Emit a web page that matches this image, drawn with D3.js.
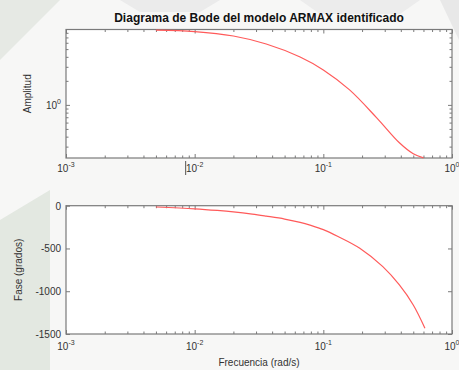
<!DOCTYPE html>
<html>
<head>
<meta charset="utf-8">
<script src="https://cdn.jsdelivr.net/npm/d3@7"></script>
<style>
  html, body { margin: 0; padding: 0; background: #ffffff; }
  svg { display: block; font-family: "Liberation Sans", Arial, sans-serif; }
</style>
</head>
<body>
<svg id="chart" width="459" height="370"></svg>
<script>
// Bode diagram of the identified ARMAX model
const magFreq  = [0.005, 0.01, 0.02, 0.036, 0.066, 0.1, 0.16, 0.26, 0.39, 0.5, 0.6];
const magValue = [8.66, 8.30, 7.29, 5.79, 3.98, 2.74, 1.54, 0.688, 0.335, 0.244, 0.217];

const phaseFreq  = [0.005, 0.01, 0.015, 0.02, 0.028, 0.036, 0.05, 0.066, 0.08, 0.1, 0.13, 0.192, 0.29, 0.39, 0.5, 0.616];
const phaseValue = [-15, -36, -55, -72, -98, -122, -156, -194, -230, -280, -360, -498, -713, -927, -1161, -1433];

const freqDomain   = [1e-3, 1e0];
const freqTicks    = [1e-3, 1e-2, 1e-1, 1e0];
const freqTickExp  = ["-3", "-2", "-1", "0"];
const magDomain    = [0.216, 8.8];
const magLabelTick = [1];
const phaseDomain  = [-1500, 0];
const phaseTicks   = [-1500, -1000, -500, 0];

const svg = d3.select("#chart");

// soft background shapes behind the figure
const bg = svg.append("g");
bg.append("rect").attr("width", 459).attr("height", 370).attr("fill", "#f7f7f6");
bg.append("polygon").attr("points", "0,0 60,0 0,60").attr("fill", "#e6e9e4");
bg.append("polygon").attr("points", "0,220 50,190 50,370 0,370").attr("fill", "#e3e8e1");
bg.append("polygon").attr("points", "120,0 220,0 200,12 140,12").attr("fill", "#ebebeb");
bg.append("polygon").attr("points", "300,0 420,0 400,14 320,14").attr("fill", "#ececec");
bg.append("polygon").attr("points", "440,0 459,0 459,40").attr("fill", "#e8e8e8");

const left = 66, right = 452;
const x = d3.scaleLog().domain(freqDomain).range([left, right]);

const minorFreq = [];
for (let e = -3; e < 0; e++) for (let m = 2; m <= 9; m++) minorFreq.push(m * Math.pow(10, e));

const axisColor = "#7a7a7a";
const textColor = "#333";
const curve = d3.curveCatmullRom.alpha(0.5);

function frame(top, bottom) {
  const g = svg.append("g");
  g.append("rect").attr("x", left).attr("y", top)
    .attr("width", right - left).attr("height", bottom - top)
    .attr("fill", "#ffffff").attr("stroke", axisColor).attr("stroke-width", 1.2);
  return g;
}

function styleAxis(sel) {
  sel.select(".domain").remove();
  sel.selectAll(".tick line").attr("stroke", axisColor).attr("stroke-width", 1);
  sel.selectAll(".tick text").remove();
}

function freqAxes(g, top, bottom) {
  // major + minor ticks, inside, on bottom and top edges
  g.append("g").attr("transform", `translate(0,${bottom})`)
    .call(d3.axisBottom(x).tickValues(freqTicks).tickSize(-4)).call(styleAxis);
  g.append("g").attr("transform", `translate(0,${bottom})`)
    .call(d3.axisBottom(x).tickValues(minorFreq).tickSize(-2.5)).call(styleAxis);
  g.append("g").attr("transform", `translate(0,${top})`)
    .call(d3.axisTop(x).tickValues(freqTicks).tickSize(-4)).call(styleAxis);
  g.append("g").attr("transform", `translate(0,${top})`)
    .call(d3.axisTop(x).tickValues(minorFreq).tickSize(-2.5)).call(styleAxis);
}

function freqLabels(g, yPos) {
  freqTicks.forEach((f, i) => {
    const t = g.append("text").attr("x", x(f)).attr("y", yPos)
      .attr("text-anchor", "middle").attr("font-size", 10).attr("fill", textColor);
    t.append("tspan").text("10");
    t.append("tspan").attr("dy", -5).attr("font-size", 7).text(freqTickExp[i]);
  });
}

// ---------- Amplitude ----------
const magTop = 29.5, magBottom = 158;
const yMag = d3.scaleLog().domain(magDomain).range([magBottom, magTop]);
const gMag = frame(magTop, magBottom);
freqAxes(gMag, magTop, magBottom);

const magMinor = [];
for (let e = -1; e <= 0; e++) for (let m = 1; m <= 9; m++) {
  const v = m * Math.pow(10, e);
  if (v > magDomain[0] && v < magDomain[1] && v !== 1) magMinor.push(v);
}
gMag.append("g").attr("transform", `translate(${left},0)`)
  .call(d3.axisLeft(yMag).tickValues(magLabelTick).tickSize(-4)).call(styleAxis);
gMag.append("g").attr("transform", `translate(${left},0)`)
  .call(d3.axisLeft(yMag).tickValues(magMinor).tickSize(-2.5)).call(styleAxis);
gMag.append("g").attr("transform", `translate(${right},0)`)
  .call(d3.axisRight(yMag).tickValues(magLabelTick).tickSize(-4)).call(styleAxis);
gMag.append("g").attr("transform", `translate(${right},0)`)
  .call(d3.axisRight(yMag).tickValues(magMinor).tickSize(-2.5)).call(styleAxis);

magLabelTick.forEach(v => {
  const t = gMag.append("text").attr("x", left - 5).attr("y", yMag(v) + 4)
    .attr("text-anchor", "end").attr("font-size", 10).attr("fill", textColor);
  t.append("tspan").text("10");
  t.append("tspan").attr("dy", -5).attr("font-size", 7).text("0");
});
freqLabels(gMag, 172);
// small text-cursor mark next to the 10^-2 label
gMag.append("line").attr("x1", x(1e-2) - 9).attr("x2", x(1e-2) - 9)
  .attr("y1", 161).attr("y2", 175).attr("stroke", "#555").attr("stroke-width", 1);

const magLine = d3.line()
  .x((d, i) => x(magFreq[i]))
  .y(d => yMag(d))
  .curve(curve);
gMag.append("path").datum(magValue).attr("d", magLine)
  .attr("fill", "none").attr("stroke", "#ff5a5a").attr("stroke-width", 1.2);

gMag.append("text").attr("transform", `translate(31,${(magTop + magBottom) / 2}) rotate(-90)`)
  .attr("text-anchor", "middle").attr("font-size", 10).attr("fill", textColor).text("Amplitud");

svg.append("text").attr("x", 259).attr("y", 22).attr("text-anchor", "middle")
  .attr("font-size", 12).attr("font-weight", "bold").attr("fill", "#111")
  .text("Diagrama de Bode del modelo ARMAX identificado");

// ---------- Phase ----------
const phTop = 205.7, phBottom = 334;
const yPh = d3.scaleLinear().domain(phaseDomain).range([phBottom, phTop]);
const gPh = frame(phTop, phBottom);
freqAxes(gPh, phTop, phBottom);
gPh.append("g").attr("transform", `translate(${left},0)`)
  .call(d3.axisLeft(yPh).tickValues(phaseTicks).tickSize(-4)).call(styleAxis);
gPh.append("g").attr("transform", `translate(${right},0)`)
  .call(d3.axisRight(yPh).tickValues(phaseTicks).tickSize(-4)).call(styleAxis);

phaseTicks.forEach(v => {
  gPh.append("text").attr("x", left - 5).attr("y", yPh(v) + 4)
    .attr("text-anchor", "end").attr("font-size", 10).attr("fill", textColor).text(v);
});
freqLabels(gPh, 350);

const phLine = d3.line()
  .x((d, i) => x(phaseFreq[i]))
  .y(d => yPh(d))
  .curve(curve);
gPh.append("path").datum(phaseValue).attr("d", phLine)
  .attr("fill", "none").attr("stroke", "#ff5a5a").attr("stroke-width", 1.2);

gPh.append("text").attr("transform", `translate(22,${(phTop + phBottom) / 2}) rotate(-90)`)
  .attr("text-anchor", "middle").attr("font-size", 10).attr("fill", textColor).text("Fase (grados)");

svg.append("text").attr("x", 259).attr("y", 366).attr("text-anchor", "middle")
  .attr("font-size", 10).attr("fill", textColor).text("Frecuencia (rad/s)");
</script>
</body>
</html>
